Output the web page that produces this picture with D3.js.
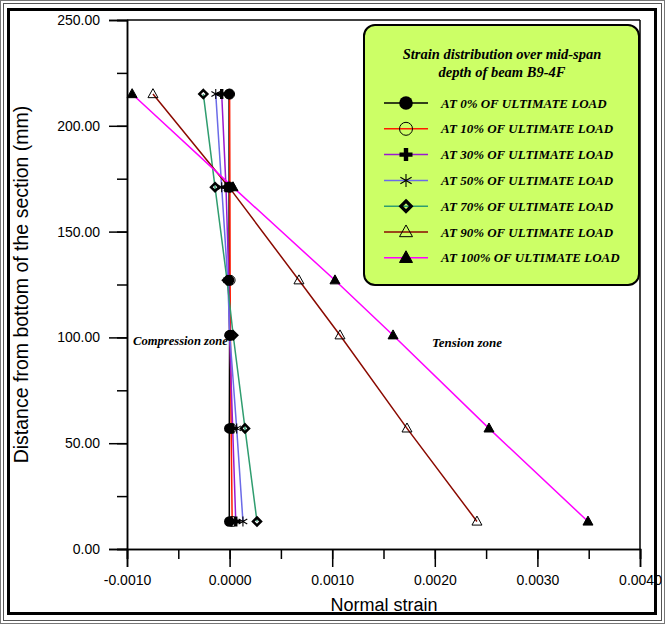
<!DOCTYPE html>
<html><head><meta charset="utf-8">
<script src="https://cdn.jsdelivr.net/npm/d3@7"></script>
<style>body{margin:0;background:#fff}svg{display:block}</style>
</head><body>
<script>
// ---- data ----
const depths = [215, 171, 127, 101, 57, 13];
const seriesNames = ["AT 0% OF ULTIMATE LOAD","AT 10% OF ULTIMATE LOAD","AT 30% OF ULTIMATE LOAD","AT 50% OF ULTIMATE LOAD","AT 70% OF ULTIMATE LOAD","AT 90% OF ULTIMATE LOAD","AT 100% OF ULTIMATE LOAD"];
const strain0   = [-0.000005, -0.000005, -0.000005, 0.000000, -0.000003, -0.000003];
const strain10  = [0.000000, 0.000003, 0.000005, 0.000008, 0.000015, 0.000025];
const strain30  = [-0.000077, -0.000035, -0.000008, 0.000000, 0.000030, 0.000060];
const strain50  = [-0.000135, -0.000077, -0.000018, 0.000002, 0.000069, 0.000130];
const strain70  = [-0.000256, -0.000142, -0.000025, 0.000035, 0.000150, 0.000267];
const strain90  = [-0.000747, -0.000006, 0.000676, 0.001076, 0.001729, 0.002411];
const strain100 = [-0.000950, 0.000033, 0.001027, 0.001593, 0.002528, 0.003493];
const allStrains = [strain0, strain10, strain30, strain50, strain70, strain90, strain100];
const xTickValues = [-0.001, 0, 0.001, 0.002, 0.003, 0.004];
const yTickValues = [0, 50, 100, 150, 200, 250];
const legendTitle = ["Strain distribution over mid-span", "depth of beam B9-4F"];

// ---- styles ----
const colors = ["#000000", "#ff1a00", "#9a1ad0", "#6b6be8", "#2f9d6f", "#8b0a00", "#ff00ff"];
const symbols = ["dotFilled", "dotOpen", "plus", "asterisk", "diamond", "triOpen", "triFilled"];

const W = 665, H = 624;
const M = {left: 127, right: 640, top: 20, bottom: 549};
const svg = d3.select("body").append("svg").attr("width", W).attr("height", H);

// frame
svg.append("rect").attr("x",0.5).attr("y",0.5).attr("width",W-1).attr("height",H-1).attr("fill","none").attr("stroke","#777").attr("stroke-width",1);
svg.append("rect").attr("x",3.5).attr("y",3.5).attr("width",W-7).attr("height",H-7).attr("fill","none").attr("stroke","#555").attr("stroke-width",1);
svg.append("rect").attr("x",8.5).attr("y",9.5).attr("width",W-18).attr("height",H-20).attr("fill","none").attr("stroke","#000").attr("stroke-width",3);

const x = d3.scaleLinear().domain([-0.001, 0.004]).range([M.left, M.right]);
const y = d3.scaleLinear().domain([0, 250]).range([M.bottom, M.top]);

// plot border (right/top)
svg.append("line").attr("x1",M.right).attr("x2",M.right).attr("y1",M.top).attr("y2",M.bottom).attr("stroke","#000").attr("stroke-width",1.5);
svg.append("line").attr("x1",M.left).attr("x2",M.right).attr("y1",M.top).attr("y2",M.top).attr("stroke","#000").attr("stroke-width",1.5);

// axes
const fontSans = "'Liberation Sans', Arial, sans-serif";
const fontSerif = "'Liberation Serif', 'Times New Roman', serif";
const fmtX = d => d3.format(".4f")(d).replace("\u2212", "-");

const xMinor = d3.range(-0.001, 0.0041, 0.0005);
const yMinor = d3.range(0, 251, 25);
const gx = svg.append("g").attr("transform", `translate(0,${M.bottom})`);
gx.call(d3.axisBottom(x).tickValues(xMinor).tickSize(10).tickFormat(""));
gx.append("g").call(d3.axisBottom(x).tickValues(xTickValues).tickSize(18).tickPadding(8).tickFormat(fmtX));
const gy = svg.append("g").attr("transform", `translate(${M.left},0)`);
gy.call(d3.axisLeft(y).tickValues(yMinor).tickSize(10).tickFormat(""));
gy.append("g").call(d3.axisLeft(y).tickValues(yTickValues).tickSize(18).tickPadding(9).tickFormat(d3.format(".2f")));
svg.selectAll(".domain").attr("stroke","#000").attr("stroke-width",1.5);
svg.selectAll(".tick line").attr("stroke","#000").attr("stroke-width",1.5);
svg.selectAll(".tick text").attr("font-family",fontSans).attr("font-size",14).attr("fill","#000");

svg.append("text").attr("x",384).attr("y",611).attr("text-anchor","middle").attr("font-family",fontSans).attr("font-size",18).text("Normal strain");
svg.append("text").attr("transform",`translate(28,${(M.top+M.bottom)/2}) rotate(-90)`).attr("text-anchor","middle").attr("font-family",fontSans).attr("font-size",19.5).text("Distance from bottom of the section (mm)");

// marker drawer
function drawMarker(g, type, cx, cy, s, color) {
  const r = s/2;
  if (type === "dotFilled") g.append("circle").attr("cx",cx).attr("cy",cy).attr("r",r*1.05).attr("fill","#000");
  else if (type === "dotOpen") g.append("circle").attr("cx",cx).attr("cy",cy).attr("r",r).attr("fill","none").attr("stroke","#000").attr("stroke-width",1);
  else if (type === "plus") {
    const t = s*0.34;
    g.append("path").attr("d",`M${cx-t/2},${cy-r}h${t}v${r-t/2}h${r-t/2}v${t}h${-(r-t/2)}v${r-t/2}h${-t}v${-(r-t/2)}h${-(r-t/2)}v${-t}h${r-t/2}z`).attr("fill","#000");
  } else if (type === "asterisk") {
    let d = "";
    [90, 30, 150].forEach(a => { const rad = a*Math.PI/180, dx = r*Math.cos(rad), dy = r*Math.sin(rad); d += `M${cx-dx},${cy-dy}L${cx+dx},${cy+dy}`; });
    g.append("path").attr("d",d).attr("stroke","#000").attr("stroke-width",1.1).attr("fill","none");
  } else if (type === "diamond") {
    const q = r*0.8;
    g.append("path").attr("d",`M${cx},${cy-q}L${cx+q},${cy}L${cx},${cy+q}L${cx-q},${cy}Z`).attr("fill","none").attr("stroke","#000").attr("stroke-width",s*0.25);
  } else if (type === "triOpen" || type === "triFilled") {
    const h = s*0.9;
    g.append("path").attr("d",`M${cx},${cy-h*0.6}L${cx+r},${cy+h*0.4}L${cx-r},${cy+h*0.4}Z`)
      .attr("fill", type === "triFilled" ? "#000" : "none").attr("stroke","#000").attr("stroke-width",1);
  }
}

// lines
const line = d3.line().x(d => x(d[0])).y(d => y(d[1]));
const gLines = svg.append("g");
allStrains.forEach((arr, i) => {
  const pts = arr.map((v, k) => [v, depths[k]]);
  gLines.append("path").attr("d", line(pts)).attr("fill","none").attr("stroke",colors[i]).attr("stroke-width",1.5);
});
const gMarks = svg.append("g");
allStrains.forEach((arr, i) => {
  arr.forEach((v, k) => drawMarker(gMarks, symbols[i], x(v), y(depths[k]), 10, colors[i]));
});

// annotations
const serifBI = sel => sel.attr("font-family",fontSerif).attr("font-weight","bold").attr("font-style","italic");
svg.append("text").attr("x",133).attr("y",345).call(serifBI).attr("font-size",12.6).text("Compression zone");
svg.append("text").attr("x",432).attr("y",347).call(serifBI).attr("font-size",13).text("Tension zone");

// legend
const lg = svg.append("g");
lg.append("rect").attr("x",364).attr("y",25).attr("width",275).attr("height",260).attr("rx",11).attr("fill","#ccff66").attr("stroke","#000").attr("stroke-width",2);
legendTitle.forEach((t, i) => lg.append("text").attr("x",502).attr("y",59 + i*18).attr("text-anchor","middle").call(serifBI).attr("font-size",14.5).text(t));
seriesNames.forEach((name, i) => {
  const cy = 103 + i*25.8;
  lg.append("line").attr("x1",384).attr("x2",428).attr("y1",cy).attr("y2",cy).attr("stroke",colors[i]).attr("stroke-width",1.5);
  drawMarker(lg, symbols[i], 406, cy, 13, colors[i]);
  lg.append("text").attr("x",441).attr("y",cy+4.5).call(serifBI).attr("font-size",13).text(name);
});
</script>
</body></html>
